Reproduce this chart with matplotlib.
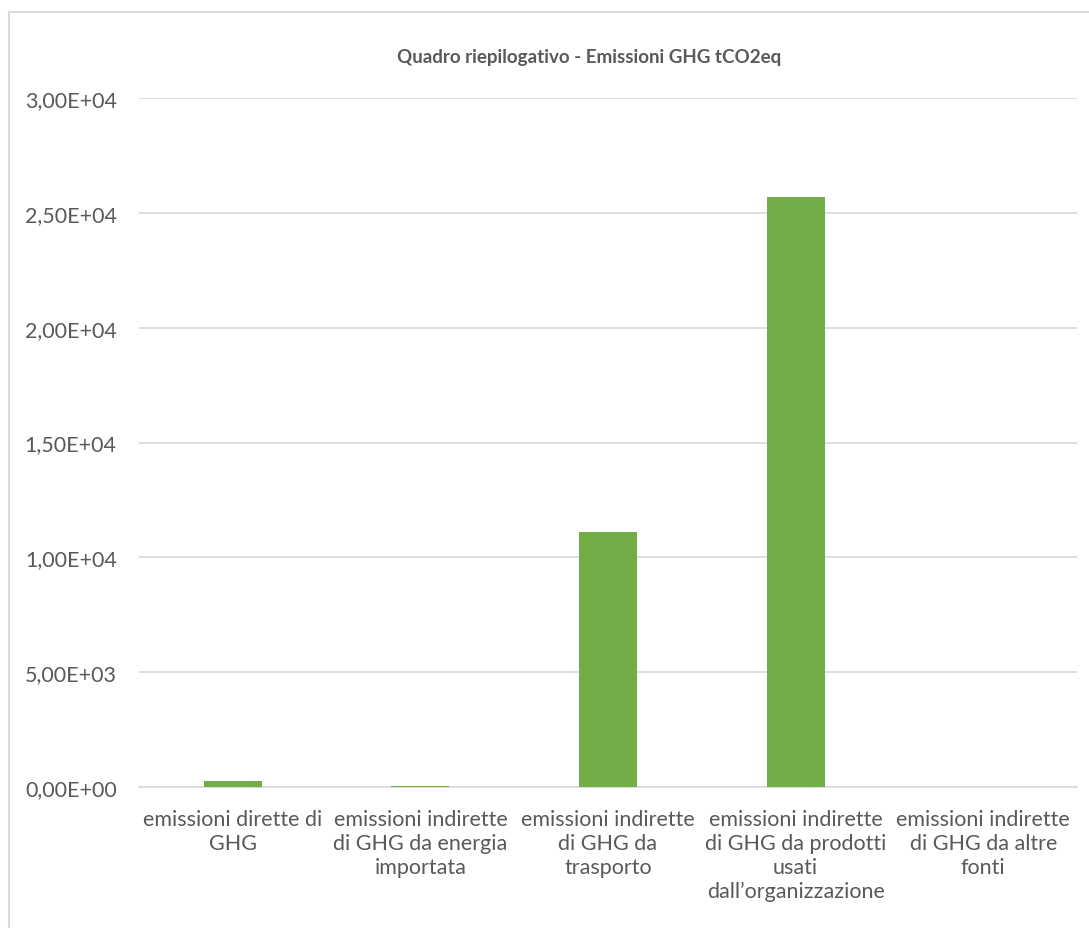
import matplotlib
matplotlib.use("Agg")
import matplotlib.pyplot as plt
from matplotlib.patches import Rectangle

# Data
categories = [
    "emissioni dirette di\nGHG",
    "emissioni indirette\ndi GHG da energia\nimportata",
    "emissioni indirette\ndi GHG da\ntrasporto",
    "emissioni indirette\ndi GHG da prodotti\nusati\ndall\u2019organizzazione",
    "emissioni indirette\ndi GHG da altre\nfonti",
]
values = [270, 30, 11100, 25700, 0]
y_ticks = [0, 5000, 10000, 15000, 20000, 25000, 30000]

plt.rcParams["font.family"] = ["Lato", "DejaVu Sans"]

fig = plt.figure(figsize=(10.89, 9.29), dpi=100)
ax = fig.add_axes([0.1276, 0.1518, 0.8614, 0.7416])

x = list(range(len(categories)))
ax.bar(x, values, width=0.31, color="#70ad47", zorder=3)

ax.set_xlim(-0.5, len(categories) - 0.5)
ax.set_ylim(0, 30000)
ax.set_yticks(y_ticks)
ax.set_yticklabels([f"{v:.2E}".replace(".", ",") for v in y_ticks])
ax.set_xticks(x)
ax.set_xticklabels(categories, linespacing=1.24)

ax.tick_params(axis="both", length=0, labelsize=15.5, labelcolor="#595959")
ax.tick_params(axis="y", pad=16)
ax.tick_params(axis="x", pad=16)
ax.yaxis.grid(True, color="#d9d9d9", linewidth=1.2, zorder=0)
for side in ["top", "right", "left"]:
    ax.spines[side].set_visible(False)
ax.spines["bottom"].set_color("#d9d9d9")
ax.spines["bottom"].set_linewidth(1.2)

fig.text(0.541, 1 - 58 / 929, "Quadro riepilogativo - Emissioni GHG tCO2eq",
         ha="center", va="center", fontsize=13.5, fontweight="bold", color="#595959")

# chart frame (top and left edges visible)
fig.patches.append(Rectangle((9 / 1089, -0.1), 1.2, 1.1 - 13 / 929,
                             transform=fig.transFigure, fill=False,
                             edgecolor="#d9d9d9", linewidth=1.5))

fig.savefig("out.png", dpi=100)
